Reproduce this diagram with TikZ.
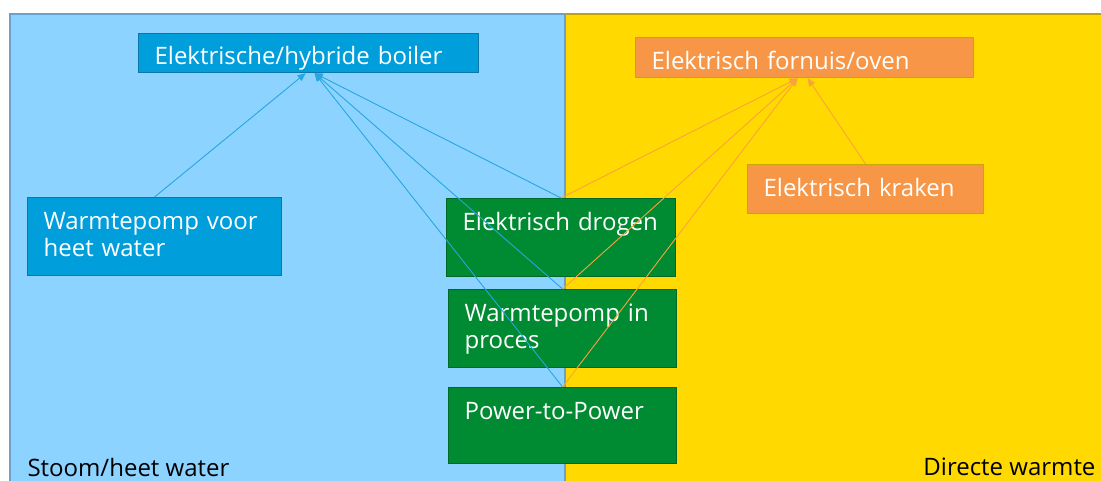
\documentclass[tikz,border=0pt]{standalone}
\usepackage{fontspec}
\setmainfont{Open Sans}
\usetikzlibrary{arrows.meta,positioning}
\definecolor{panelblue}{RGB}{141,211,255}
\definecolor{panelblueline}{RGB}{110,160,200}
\definecolor{panelyellow}{RGB}{255,217,0}
\definecolor{panelyellowline}{RGB}{190,160,20}
\definecolor{boilerblue}{RGB}{0,158,218}
\definecolor{boilerline}{RGB}{12,120,170}
\definecolor{procgreen}{RGB}{0,138,50}
\definecolor{procline}{RGB}{0,105,40}
\definecolor{ovenorange}{RGB}{247,150,70}
\definecolor{ovenline}{RGB}{200,168,0}
\definecolor{linkblue}{RGB}{40,166,224}
\definecolor{linkorange}{RGB}{249,164,58}

\tikzset{
  tech/.style={draw, line width=1.2pt, anchor=north west, align=left, text=white,
    font=\fontsize{24}{27}\selectfont, inner xsep=16pt, inner ysep=16pt,
    text height=16pt, text depth=30pt},
  toptech/.style={tech, inner ysep=0pt, text height=23pt, text depth=0pt},
  bluebox/.style={fill=boilerblue, draw=boilerline},
  greenbox/.style={fill=procgreen, draw=procline},
  orangebox/.style={fill=ovenorange, draw=ovenline},
  bluelink/.style={-{Triangle[width=7pt,length=8pt]}, linkblue, line width=0.9pt},
  orangelink/.style={-{Triangle[width=7pt,length=8pt]}, linkorange, line width=0.9pt},
  zone/.style={font=\fontsize{24}{27}\selectfont, text=black}
}

\begin{document}
\begin{tikzpicture}[x=1pt, y=-1pt]
  \useasboundingbox (0,0) rectangle (1101,481);
  \clip (0,0) rectangle (1101,481);
  % ---- Two zones ----
  \fill[white] (0,0) rectangle (1101,481);
  \filldraw[fill=panelblue, draw=panelblueline, line width=1.2pt] (10,14) rectangle (565,490);
  \filldraw[fill=panelyellow, draw=panelyellowline, line width=1.2pt] (565,14) rectangle (1110,490);
  \draw[panelblueline, line width=1.2pt] (565,14) -- (565,490);

  % ---- Target technologies (top) ----
  \node[toptech, bluebox, text width=308pt, minimum height=39pt] (boiler) at (138,33) {Elektrische/hybride boiler};
  \node[toptech, orangebox, text width=306pt, minimum height=40pt] (oven) at (635,37) {Elektrisch fornuis/oven};
  \node[toptech, orangebox, text width=204pt, minimum height=49pt, text height=18pt, text depth=3pt] (kraken) at (747,164) {Elektrisch kraken};

  % ---- Source technologies ----
  \node[tech, bluebox, text width=222pt] (wpwater) at (27,197) {Warmtepomp voor\\heet water};
  \node[tech, greenbox, text width=197pt] (drogen) at (446,198) {Elektrisch drogen};
  \node[tech, greenbox, text width=196pt] (wpproces) at (448,289) {Warmtepomp in\\proces};
  \node[tech, greenbox, text width=196pt, text depth=28pt] (p2p) at (448,387) {Power-to-Power};

  % ---- Zone labels ----
  \node[zone, anchor=west] (stoom) at (24,467) {Stoom/heet water};
  \node[zone, anchor=east] (direct) at (1099,467) {Directe warmte};

  % ---- Links to boiler ----
  \draw[bluelink] (wpwater.north) -- ([xshift=-3pt]boiler.south);
  \draw[bluelink] (drogen.north) -- ([xshift=6pt]boiler.south);
  \draw[bluelink] (wpproces.north) -- ([xshift=6pt]boiler.south);
  \draw[bluelink] (p2p.north) -- ([xshift=6pt]boiler.south);

  % ---- Links to oven ----
  \draw[orangelink] (drogen.north) -- ([xshift=-7pt]oven.south);
  \draw[orangelink] (wpproces.north) -- ([xshift=-7pt]oven.south);
  \draw[orangelink] (p2p.north) -- ([xshift=-7pt]oven.south);
  \draw[orangelink] (kraken.north) -- ([xshift=3pt]oven.south);
\end{tikzpicture}
\end{document}
